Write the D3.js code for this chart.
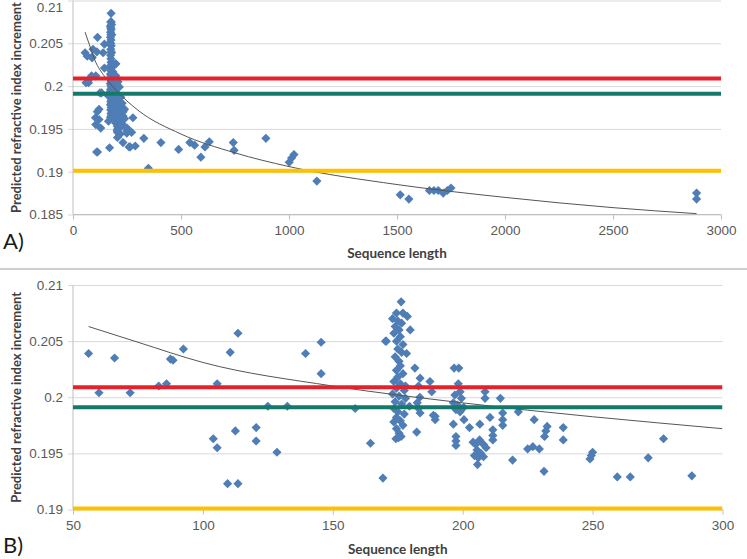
<!DOCTYPE html>
<html>
<head>
<meta charset="utf-8">
<script src="https://cdn.jsdelivr.net/npm/d3@7"></script>
<style>
  html, body { margin: 0; padding: 0; background: #fff; }
  svg { display: block; font-family: Lato, "Open Sans", sans-serif; }
</style>
</head>
<body>
<svg width="747" height="559"></svg>
<script>
// sequence length / predicted dn/dc for each protein
const seqLength = [
  56, 60, 66, 72, 83, 86, 87.5, 88.5, 92.5, 104, 105.5, 105.5, 109.5, 110.5, 112.5, 113.5, 113.5,
  120.5, 120.5, 125, 128.5, 132.5, 139.5, 145.5, 145.5, 158.6, 164.5, 169.3, 170.3,
  176.3, 174.5, 177, 178.7, 173, 175, 176.5, 174, 175.5, 179.8, 173.5, 176, 170.6, 174.5, 177,
  175, 176.5, 178.4, 174, 175.5, 176, 181.6, 174.5, 177, 175, 183.6, 173.5, 176, 187.4, 174.5,
  177.5, 188.1, 173, 175.5, 178, 174, 176.5, 179.5, 173.5, 175, 177.5, 183.6, 174.5, 176, 188.7,
  189.4, 177, 174.5, 175.5, 182.3, 176.3, 174.3, 175.3, 183, 183.5, 182.5, 183, 189.4, 178, 173.5,
  196.7, 198.5, 198.3, 199, 197, 199.5, 196.4, 198, 200.4, 197.4, 199, 196.4, 200.5, 202.6, 197.4,
  197.4, 197.4,
  208.6, 208.6, 206.6, 210.5, 204, 205, 206.5, 208, 209, 205.5, 207, 204.5, 206, 208, 205.7,
  211.6, 211.6, 211.6, 214.5, 215.4, 215.4, 215.4, 219.2, 221.4, 227.5, 225, 227, 229.5, 231.3,
  231.5, 232, 232.5, 238.7, 238.7, 249, 249.5, 250, 259.5, 264.5, 271.4, 277.3, 288.2,
  328, 349, 407, 489, 541, 563, 592, 611, 631, 742, 746, 893, 1001, 1012, 1023, 1129,
  1515, 1555, 1650, 1671, 1691, 1714, 1733, 1750, 2887, 2887
]
const refIncrement = [
  0.2039, 0.2004, 0.2035, 0.2004, 0.2010, 0.2012, 0.2034, 0.2033, 0.2043, 0.1963, 0.2012, 0.1955,
  0.1923, 0.2040, 0.1970, 0.2057, 0.1923,
  0.1973, 0.1961, 0.1992, 0.1951, 0.1992, 0.2039, 0.2049, 0.2021, 0.1990, 0.1959, 0.1928, 0.2050,
  0.2085, 0.2075, 0.2075, 0.2072, 0.2070, 0.2068, 0.2066, 0.2063, 0.2060, 0.2060, 0.2057, 0.2054,
  0.2050, 0.2050, 0.2047, 0.2043, 0.2040, 0.2039, 0.2036, 0.2032, 0.2028, 0.2026, 0.2024, 0.2021,
  0.2018, 0.2017, 0.2014, 0.2012, 0.2014, 0.2008, 0.2006, 0.2005, 0.2003, 0.2001, 0.1999, 0.1996,
  0.1994, 0.1992, 0.1990, 0.1987, 0.1985, 0.1986, 0.1982, 0.1979, 0.1984, 0.1980, 0.1975, 0.1972,
  0.1968, 0.1969, 0.1965, 0.1963, 0.1964, 0.2010, 0.2000, 0.1995, 0.1990, 0.1983, 0.2010, 0.1978,
  0.2026, 0.2026, 0.2012, 0.2005, 0.2002, 0.1999, 0.1995, 0.1993, 0.1991, 0.1989, 0.1987, 0.1976,
  0.1980, 0.1973, 0.1965, 0.1961, 0.1957,
  0.2005, 0.1999, 0.1976, 0.1982, 0.1960, 0.1958, 0.1962, 0.1958, 0.1955, 0.1953, 0.1950, 0.1948,
  0.1946, 0.1947, 0.1940, 0.1971, 0.1966, 0.1962, 0.1999, 0.1986, 0.1980, 0.1975, 0.1944, 0.1987,
  0.1980, 0.1954, 0.1956, 0.1954, 0.1934, 0.1965, 0.1970, 0.1974, 0.1973, 0.1962, 0.1945, 0.1948,
  0.1951, 0.1929, 0.1929, 0.1946, 0.1963, 0.1930,
  0.1939, 0.1904, 0.1934, 0.1926, 0.1934, 0.1931, 0.1917, 0.1929, 0.1935, 0.1934, 0.1925, 0.1939,
  0.1911, 0.1916, 0.1920, 0.1889, 0.1873, 0.1868, 0.1878, 0.1878, 0.1878, 0.1875, 0.1878, 0.1881,
  0.1875, 0.1868
]

// fitted trend line, read at a few lengths
const trendLength = [56, 75, 100, 150, 200, 300, 500, 750, 1000, 1500, 2000, 2500, 2887]
const trendValue = [0.2063, 0.2049, 0.2031, 0.2010, 0.1995, 0.1972, 0.1944, 0.1922, 0.1906, 0.1885, 0.1870, 0.1858, 0.1851]

// horizontal reference levels
const refLevels = [0.2009, 0.1991, 0.1901]
const refColors = ['#e8202a', '#137a6b', '#ffc000']

const topTicksX = [0, 500, 1000, 1500, 2000, 2500, 3000]
const topTicksY = [0.185, 0.19, 0.195, 0.2, 0.205, 0.21]
const botTicksX = [50, 100, 150, 200, 250, 300]
const botTicksY = [0.19, 0.195, 0.2, 0.205, 0.21]

const points = seqLength.map((d, i) => ({ len: d, val: refIncrement[i] }))
const trend = trendLength.map((d, i) => ({ len: d, val: trendValue[i] }))

const svg = d3.select('svg')
const fmt = d3.format('.3~f')
const labelSize = '13.5px'

function drawPanel(o) {
  const x = d3.scaleLinear().domain(o.xDomain).range([o.left, o.right])
  const y = d3.scaleLinear().domain(o.yDomain).range([o.bottom, o.top])
  const w = o.right - o.left
  const g = svg.append('g')

  const clipId = 'clip-' + o.name
  svg.append('clipPath').attr('id', clipId)
    .append('rect').attr('x', o.left).attr('y', o.top - 6)
    .attr('width', w).attr('height', o.bottom - o.top + 12)

  // y axis with gridlines
  const ya = g.append('g').attr('transform', `translate(${o.left},0)`)
    .call(d3.axisLeft(y).tickValues(o.yTicks).tickSize(-w).tickPadding(10).tickFormat(fmt))
  ya.select('.domain').remove()
  ya.selectAll('.tick line').attr('x1', -5).attr('stroke', '#d9d9d9')
  ya.selectAll('.tick text').attr('fill', '#595959').style('font-size', labelSize)
    // keep the top label inside the picture
    .attr('dy', d => (y(d) < 6 ? '0.85em' : '0.32em'))
  g.append('line').attr('x1', o.left).attr('x2', o.left).attr('y1', o.top).attr('y2', o.bottom)
    .attr('stroke', '#bfbfbf')

  // x axis
  const xa = g.append('g').attr('transform', `translate(0,${o.bottom})`)
    .call(d3.axisBottom(x).tickValues(o.xTicks).tickSize(5).tickPadding(6).tickFormat(d3.format('d')))
  xa.select('.domain').attr('stroke', '#bfbfbf').attr('d', `M${o.left},0H${o.right}`)
  xa.selectAll('.tick line').attr('stroke', '#bfbfbf')
  xa.selectAll('.tick text').attr('fill', '#595959').style('font-size', labelSize)

  const plot = g.append('g').attr('clip-path', `url(#${clipId})`)

  const shown = points.filter(d => d.len >= o.xDomain[0] && d.len <= o.xDomain[1])
  plot.selectAll('path.pt').data(shown).enter().append('path')
    .attr('class', 'pt')
    .attr('d', d3.symbol().type(d3.symbolSquare).size(42))
    .attr('transform', d => `translate(${x(d.len)},${y(d.val)}) rotate(45)`)
    .attr('fill', '#4f7db5')

  const line = d3.line().x(d => x(d.len)).y(d => y(d.val)).curve(d3.curveMonotoneX)
  plot.append('path').datum(trend.filter(d => d.len <= o.xDomain[1] * 1.5))
    .attr('d', line).attr('fill', 'none').attr('stroke', '#555').attr('stroke-width', 1)

  plot.selectAll('line.ref').data(refLevels).enter().append('line')
    .attr('class', 'ref')
    .attr('x1', o.left).attr('x2', o.right)
    .attr('y1', d => y(d)).attr('y2', d => y(d))
    .attr('stroke', (d, i) => refColors[i]).attr('stroke-width', 4)

  // titles
  g.append('text').attr('x', (o.left + o.right) / 2).attr('y', o.xTitleY)
    .attr('text-anchor', 'middle').attr('font-weight', 'bold').attr('fill', '#404040')
    .style('font-size', labelSize).text('Sequence length')
  g.append('text')
    .attr('transform', `translate(${o.yTitleX},${(o.top + o.bottom) / 2}) rotate(-90)`)
    .attr('text-anchor', 'middle').attr('font-weight', 'bold').attr('fill', '#404040')
    .style('font-size', '13px').text('Predicted refractive index increment')
  g.append('text').attr('x', 3).attr('y', o.tagY)
    .attr('fill', '#1a1a1a').style('font-size', '22px').text(o.tag)
}

drawPanel({
  name: 'a', tag: 'A)', xDomain: [0, 3000], yDomain: [0.185, 0.21],
  xTicks: topTicksX, yTicks: topTicksY,
  left: 73, right: 721, top: 0.5, bottom: 214.5, xTitleY: 258, yTitleX: 21, tagY: 249
})

svg.append('line').attr('x1', 0).attr('x2', 747).attr('y1', 269).attr('y2', 269)
  .attr('stroke', '#bfbfbf').attr('stroke-width', 1.5)

drawPanel({
  name: 'b', tag: 'B)', xDomain: [50, 300], yDomain: [0.19, 0.21],
  xTicks: botTicksX, yTicks: botTicksY,
  left: 73, right: 722.5, top: 285, bottom: 509.5, xTitleY: 554, yTitleX: 21, tagY: 553
})
</script>
</body>
</html>
